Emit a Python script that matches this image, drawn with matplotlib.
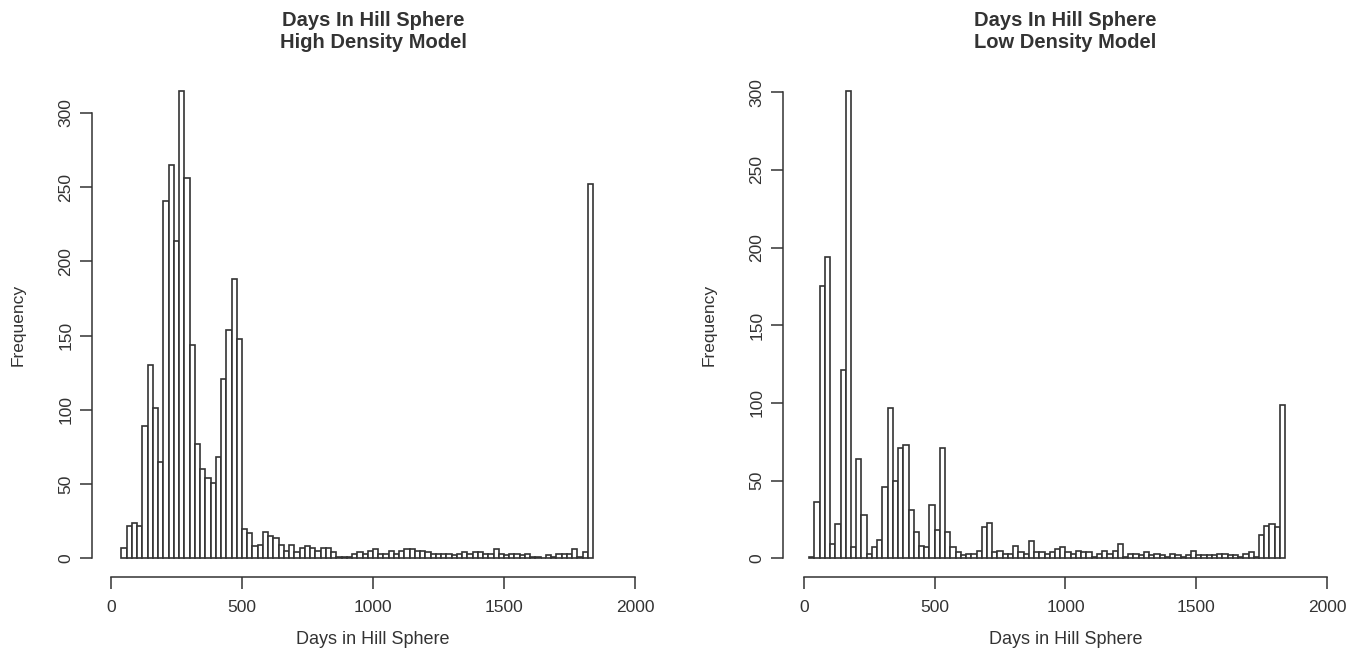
import matplotlib.pyplot as plt
import matplotlib.transforms as mtransforms
import numpy as np

plt.rcParams['font.family'] = ['Liberation Sans', 'DejaVu Sans']

# Histogram counts, 20-day bins
largura_bin = 20

inicio_alta = 40
contagem_alta = [7, 22, 24, 22, 89, 130, 101, 65, 241, 265,
                 214, 315, 256, 144, 77, 60, 54, 51, 68, 121,
                 154, 188, 148, 20, 17, 8, 9, 18, 15, 14,
                 9, 5, 9, 4, 7, 8, 7, 5, 7, 7,
                 4, 1, 1, 1, 3, 4, 3, 5, 6, 3,
                 3, 5, 3, 5, 6, 6, 5, 5, 4, 3,
                 3, 3, 3, 2, 3, 4, 3, 4, 4, 3,
                 3, 6, 3, 2, 3, 3, 2, 3, 1, 1,
                 0, 2, 1, 3, 3, 3, 6, 1, 4, 252]

inicio_baixa = 20
contagem_baixa = [1, 36, 175, 194, 9, 22, 121, 301, 7, 64,
                  28, 3, 7, 12, 46, 97, 50, 71, 73, 31,
                  17, 8, 7, 34, 18, 71, 17, 7, 4, 2,
                  3, 3, 5, 20, 23, 4, 5, 3, 3, 8,
                  4, 3, 11, 4, 4, 3, 4, 6, 7, 4,
                  3, 5, 4, 4, 1, 3, 5, 3, 5, 9,
                  1, 3, 3, 2, 4, 2, 3, 2, 1, 3,
                  2, 1, 2, 5, 2, 2, 2, 2, 3, 3,
                  2, 2, 1, 3, 4, 1, 15, 21, 22, 20, 99]

titulos = ['Days In Hill Sphere\nHigh Density Model',
           'Days In Hill Sphere\nLow Density Model']
rotulo_x = 'Days in Hill Sphere'
rotulo_y = 'Frequency'
ticks_x = [0, 500, 1000, 1500, 2000]
ticks_y = [0, 50, 100, 150, 200, 250, 300]

cor = '#333333'
W, H = 1362, 654
fig = plt.figure(figsize=(W / 100, H / 100), dpi=100)

# pixel boxes of the two plot regions: left, right, top, bottom, and pixel of x=0
caixas = [(92, 635, 72, 577, 111), (783, 1327, 72, 577, 804)]
dados = [(inicio_alta, contagem_alta), (inicio_baixa, contagem_baixa)]
px_por_dia = 524 / 2000

for (x0, x1, y0, y1, zero), (inicio, contagem), titulo in zip(caixas, dados, titulos):
    ax = fig.add_axes([x0 / W, (H - y1) / H, (x1 - x0) / W, (y1 - y0) / H])
    contagem = np.array(contagem)
    bordas = inicio + largura_bin * np.arange(len(contagem))

    ax.bar(bordas, contagem, width=largura_bin, align='edge',
           color='white', edgecolor=cor, linewidth=1.2)

    # R-like limits: 4% margin
    ymax = contagem.max()
    ax.set_ylim(-0.04 * ymax, 1.04 * ymax)
    ax.set_xlim((x0 - zero) / px_por_dia, 2000)

    for lado in ['top', 'right']:
        ax.spines[lado].set_visible(False)
    ax.spines['left'].set_bounds(0, 300)
    ax.spines['bottom'].set_bounds(0, 2000)
    for lado in ['left', 'bottom']:
        ax.spines[lado].set_color(cor)
        ax.spines[lado].set_linewidth(1.1)

    ax.set_xticks(ticks_x)
    ax.set_yticks(ticks_y)
    ax.tick_params(axis='both', direction='out', length=8.3, width=1.1,
                   color=cor, labelcolor=cor, labelsize=12.5)
    ax.tick_params(axis='x', pad=8.5)
    ax.tick_params(axis='y', pad=5, labelrotation=90)
    for lbl in ax.get_yticklabels():
        lbl.set_va('center')

    mistura = mtransforms.blended_transform_factory(ax.transData, ax.transAxes)
    ax.text(1000, 1.0 + 40 / 505, titulo, transform=mistura, ha='center',
            va='center', fontsize=14.5, fontweight='bold', color=cor,
            linespacing=1.2)
    ax.text(1000, -63 / 505, rotulo_x, transform=mistura, ha='center',
            va='center', fontsize=13, color=cor)
    ax.text(-74 / (x1 - x0), 0.5, rotulo_y, transform=ax.transAxes,
            ha='center', va='center', rotation=90, fontsize=12.5, color=cor)

fig.savefig('out.png', dpi=100)
